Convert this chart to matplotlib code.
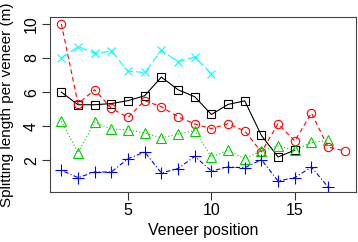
import matplotlib
matplotlib.use("Agg")
import matplotlib.pyplot as plt

plt.rcParams['font.family'] = ['Liberation Sans', 'DejaVu Sans']

# Splitting length per veneer for five logs
x_black = list(range(1, 16))
y_black = [6.0, 5.26, 5.26, 5.33, 5.5, 5.79, 6.88, 6.14, 5.73, 4.69, 5.28, 5.49, 3.46, 2.2, 2.6]

x_red = list(range(1, 19))
y_red = [10.0, 5.32, 6.14, 5.05, 4.52, 5.5, 5.14, 4.56, 4.13, 3.86, 4.15, 3.72, 2.49, 4.15, 3.13, 4.78, 2.78, 2.55]

x_green = list(range(1, 18))
y_green = [4.3, 2.45, 4.24, 3.83, 3.8, 3.6, 3.32, 3.54, 3.74, 2.2, 2.59, 2.1, 2.56, 2.85, 2.6, 3.05, 3.17]

x_blue = list(range(1, 18))
y_blue = [1.42, 0.99, 1.32, 1.32, 2.1, 2.49, 1.26, 1.52, 2.24, 1.38, 1.61, 1.57, 2.04, 0.79, 0.99, 1.61, 0.44]

x_cyan = list(range(1, 11))
y_cyan = [8.0, 8.67, 8.28, 8.4, 7.23, 7.15, 8.44, 7.79, 8.05, 7.07]

fig = plt.figure(figsize=(3.58, 2.42), dpi=100)
ax = fig.add_axes([0.1397, 0.2054, 0.855, 0.7256])

ms = 6
lw = 0.8
ax.plot(x_black, y_black, color='black', ls='-', lw=lw, marker='s', ms=ms,
        mfc='none', mec='black', mew=lw)
ax.plot(x_red, y_red, color='#FF0000', ls=(0, (4, 3)), lw=lw, marker='o', ms=ms,
        mfc='none', mec='#FF0000', mew=lw)
ax.plot(x_green, y_green, color='#00CD00', ls=(0, (1, 2)), lw=lw, marker='^', ms=ms + 1,
        mfc='none', mec='#00CD00', mew=lw)
ax.plot(x_blue, y_blue, color='#0000FF', ls=(0, (1, 2, 4, 2)), lw=lw, marker='+', ms=ms + 2,
        mec='#0000FF', mew=lw)
ax.plot(x_cyan, y_cyan, color='#00FFFF', ls=(0, (7, 3)), lw=lw, marker='x', ms=ms,
        mec='#00FFFF', mew=lw)

ax.set_xlim(0.32, 18.68)
ax.set_ylim(0.13, 10.42)
ax.set_xticks([5, 10, 15])
ax.set_yticks([2, 4, 6, 8, 10])
ax.tick_params(direction='out', length=6, width=0.8, labelsize=11.5, pad=2, color='#333333')
for lab in ax.get_yticklabels():
    lab.set_rotation(90)
    lab.set_va('center')
for s in ax.spines.values():
    s.set_linewidth(0.8)
    s.set_color('#444444')

ax.set_xlabel("Veneer position", fontsize=11.5, labelpad=3)
ax.set_ylabel("Splitting length per veneer (m)", fontsize=11)
ax.yaxis.set_label_coords(-0.117, 0.5)

fig.savefig("out.png", dpi=100)
